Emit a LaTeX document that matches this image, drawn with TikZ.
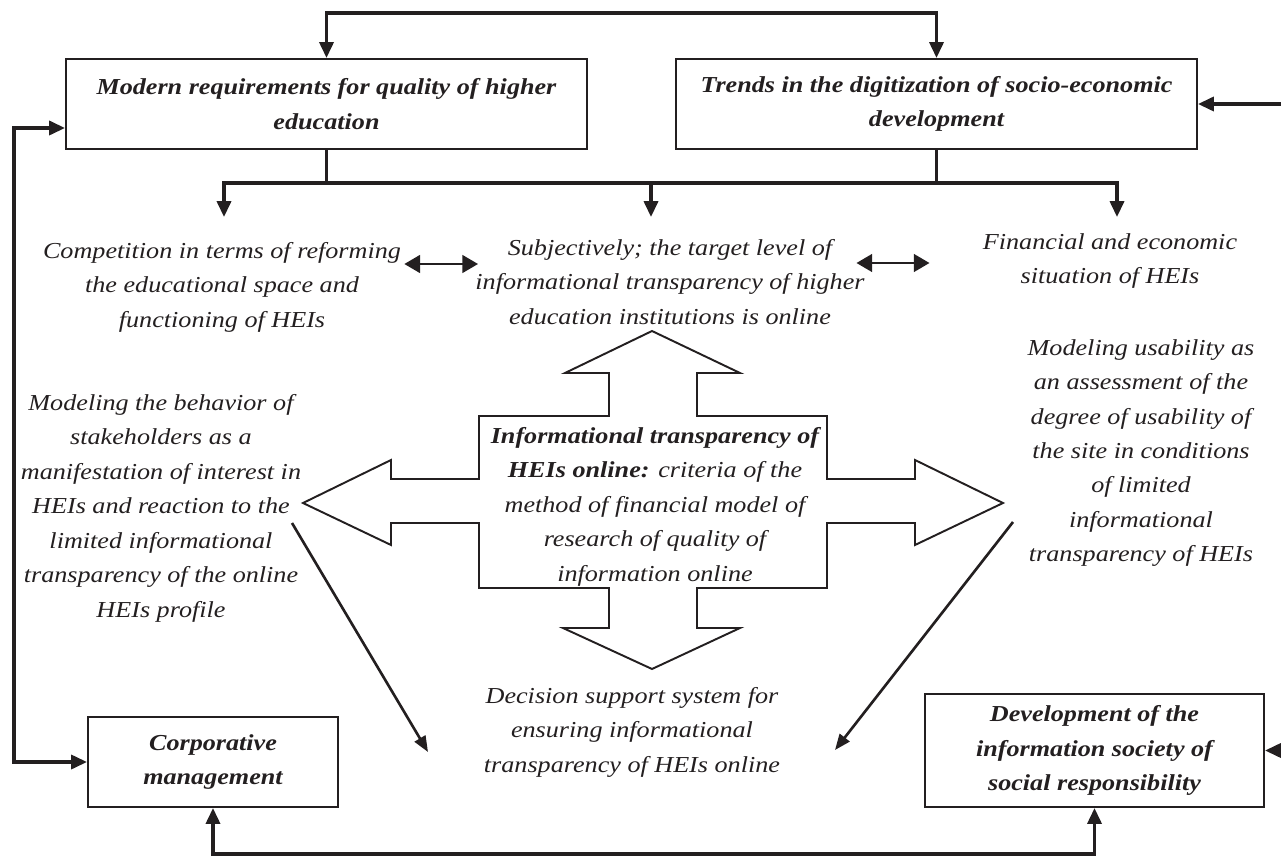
\documentclass[tikz,border=0pt]{standalone}
\usepackage{fontspec}
\setmainfont{Liberation Serif}[FakeStretch=1.145]
\usetikzlibrary{positioning,arrows.meta}
\definecolor{ink}{HTML}{231F20}

\begin{document}
\begin{tikzpicture}[
    x=0.02cm, y=-0.02cm,
    every node/.style={inner sep=0pt, text=ink,
        font=\fontsize{13pt}{19.6pt}\selectfont\itshape},
    >={Triangle[length=9pt,width=8pt]},
    box/.style={draw=ink, line width=1.2pt, align=center,
        font=\fontsize{13pt}{19.6pt}\selectfont\bfseries\itshape},
    txt/.style={align=center, anchor=north},
    link/.style={draw=ink, line width=1.8pt},
    dbl/.style={draw=ink, line width=1.7pt,
        {Triangle[length=9pt,width=10pt]}-{Triangle[length=9pt,width=10pt]}},
    diag/.style={draw=ink, line width=1.5pt, -{Triangle[length=9pt,width=7pt]}}
]
\useasboundingbox (0,0) rectangle (1281,858);

% Cajas
\node[box, minimum width=10.42cm, minimum height=1.8cm] (req) at (326.5,104)
    {Modern requirements for quality of higher\\education};
\node[box, minimum width=10.42cm, minimum height=1.8cm] (trend) at (936.5,104)
    {Trends in the digitization of socio-economic\\development};
\node[box, minimum width=5cm, minimum height=1.8cm] (corp) at (213,762)
    {Corporative\\management};
\node[box, minimum width=6.78cm, minimum height=2.26cm] (dev) at (1094.5,750.5)
    {Development of the\\information society of\\social responsibility};

% Textos
\node[txt] (comp) at (222,242)
    {Competition in terms of reforming\\the educational space and\\functioning of HEIs};
\node[txt] (subj) at (670,239)
    {Subjectively; the target level of\\informational transparency of higher\\education institutions is online};
\node[txt] (fin) at (1110,233)
    {Financial and economic\\situation of HEIs};
\node[txt] (stake) at (161,394)
    {Modeling the behavior of\\stakeholders as a\\manifestation of interest in\\HEIs and reaction to the\\limited informational\\transparency of the online\\HEIs profile};
\node[txt] (usab) at (1141,339)
    {Modeling usability as\\an assessment of the\\degree of usability of\\the site in conditions\\of limited\\informational\\transparency of HEIs};
\node[txt] (dss) at (632,687)
    {Decision support system for\\ensuring informational\\transparency of HEIs online};

% Cruz central
\draw[ink, line width=1.1pt] (652,331) -- (740,373) -- (697,373) -- (697,416)
    -- (827,416) -- (827,479) -- (915,479) -- (915,460) -- (1003,503)
    -- (915,545) -- (915,523) -- (827,523) -- (827,588) -- (697,588)
    -- (697,628) -- (740,628) -- (652,669) -- (563,628) -- (609,628)
    -- (609,588) -- (479,588) -- (479,523) -- (391,523) -- (391,545)
    -- (303,503) -- (391,460) -- (391,479) -- (479,479) -- (479,416)
    -- (609,416) -- (609,373) -- (565,373) -- cycle;
\node[txt] (crit) at (655,427)
    {\textbf{Informational transparency of}\\\textbf{HEIs online:} criteria of the\\method of financial model of\\research of quality of\\information online};

% Puntos auxiliares
\coordinate (rgt) at (1290,0);
\coordinate (lft) at (14,128);
\coordinate (bl) at (224,183);
\coordinate (br) at (1117,183);
\coordinate (tl) at (224,217);
\coordinate (tm) at (651,217);
\coordinate (tr) at (1117,217);
\coordinate (sa) at (292,523);
\coordinate (sb) at (428,752);
\coordinate (ua) at (1013,522);
\coordinate (ub) at (835,750);

% Flechas de las cajas
\draw[link,<->] (req.north) -- ++(0,-45) -| (trend.north);
\draw[link,->] (trend.east -| rgt) -- (trend.east);
\draw[link,->] (dev.east -| rgt) -- (dev.east);
\draw[link,<->] (req.west |- lft) -- (lft) |- (corp.west);
\draw[link,<->] (corp.south) -- ++(0,46) -| (dev.south);

% Ramas
\draw[link] (req.south) -- (req.south |- bl);
\draw[link] (trend.south) -- (trend.south |- bl);
\draw[link,<->] (tl) -- (bl) -- (br) -- (tr);
\draw[link,->] (tm |- bl) -- (tm);

% Flechas dobles
\draw[dbl] ([xshift=0.06cm]comp.east |- 0,264) -- ([xshift=0.06cm]subj.west |- 0,264);
\draw[dbl] ([xshift=-0.17cm]subj.east |- 0,263) -- ([xshift=-1.06cm]fin.west |- 0,263);

% Diagonales
\draw[diag] (sa) -- (sb);
\draw[diag] (ua) -- (ub);

\end{tikzpicture}
\end{document}
